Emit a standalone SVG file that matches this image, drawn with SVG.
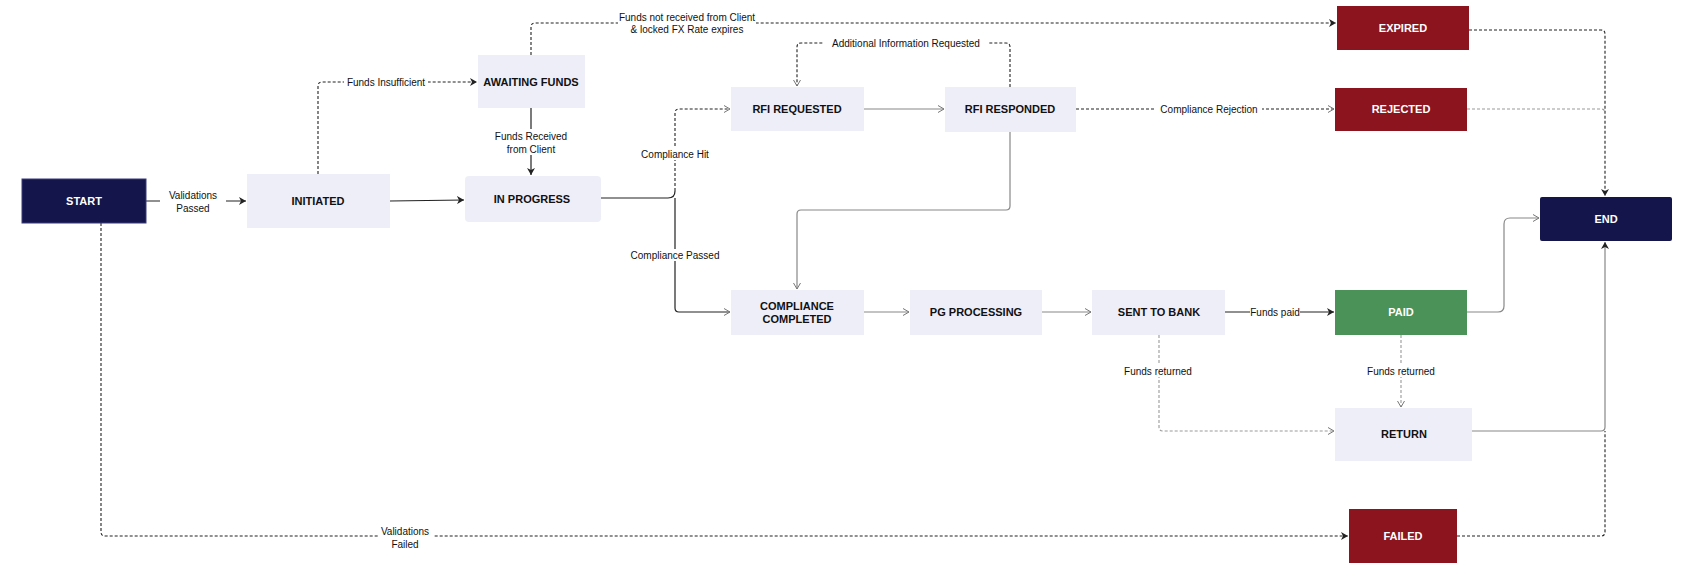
<svg xmlns="http://www.w3.org/2000/svg" width="1699" height="581" viewBox="0 0 1699 581">
<style>
text{font-family:"Liberation Sans",Arial,sans-serif}
.n{font-size:11px;font-weight:bold;text-anchor:middle;fill:#111}
.w{fill:#fff}
.l{font-size:10px;text-anchor:middle;fill:#111}
.lb{fill:#fff}
.s{fill:none;stroke:#222;stroke-width:1.2}
.g{fill:none;stroke:#888;stroke-width:1.2}
.d{fill:none;stroke:#222;stroke-width:1.1;stroke-dasharray:3 2}
.dg{fill:none;stroke:#999;stroke-width:1.1;stroke-dasharray:3 2}
.lav{fill:#eeeef9}
.red{fill:#8b141e}
.navy{fill:#14154a}
</style>
<defs>
<marker id="a" markerWidth="8" markerHeight="8" refX="7" refY="4" orient="auto" markerUnits="userSpaceOnUse"><path d="M0,0 L7,4 L0,8 L2,4z" fill="#222"/></marker>
<marker id="o" markerWidth="8" markerHeight="8" refX="7" refY="4" orient="auto" markerUnits="userSpaceOnUse"><path d="M1,0.5 L7,4 L1,7.5" fill="none" stroke="#777"/></marker>
</defs>
<g id="connectors">
<path class="s" d="M146,201 H246" marker-end="url(#a)"/>
<rect x="160" y="188" width="66" height="26" fill="#fff"/>
<text class="l" x="193" y="199">Validations</text><text class="l" x="193" y="212">Passed</text>
<path class="s" d="M390,201 L464,200" marker-end="url(#a)"/>
<path class="d" d="M318,174 V86 Q318,82 322,82 H477" marker-end="url(#a)"/>
<rect x="344" y="76" width="84" height="12" fill="#fff"/>
<text class="l" x="386" y="86">Funds Insufficient</text>
<path class="s" d="M531,108 V175" marker-end="url(#a)"/>
<rect x="495" y="129" width="72" height="26" fill="#fff"/>
<text class="l" x="531" y="140">Funds Received</text><text class="l" x="531" y="153">from Client</text>
<path class="d" d="M531,55 V27 Q531,23 535,23 H1336" marker-end="url(#a)"/>
<rect x="618" y="11" width="138" height="26" fill="#fff"/>
<text class="l" x="687" y="21">Funds not received from Client</text><text class="l" x="687" y="33">&amp; locked FX Rate expires</text>
<path class="s" d="M601,198 H668 Q675,198 675,191"/>
<path class="d" d="M675,191 V113 Q675,109 679,109 H730" marker-end="url(#o)"/>
<path class="s" d="M675,198 V308 Q675,312 679,312 H730" marker-end="url(#o)"/>
<rect x="636" y="148" width="78" height="12" fill="#fff"/>
<text class="l" x="675" y="158">Compliance Hit</text>
<rect x="626" y="249" width="98" height="12" fill="#fff"/>
<text class="l" x="675" y="259">Compliance Passed</text>
<path class="g" d="M864,109 H944" marker-end="url(#o)"/>
<path class="d" d="M1010,87 V47 Q1010,43 1006,43 H801 Q797,43 797,47 V86" marker-end="url(#o)"/>
<rect x="824" y="37" width="164" height="12" fill="#fff"/>
<text class="l" x="906" y="47">Additional Information Requested</text>
<path class="g" d="M1010,132 V206 Q1010,210 1006,210 H801 Q797,210 797,214 V289" marker-end="url(#o)"/>
<path class="d" d="M1076,109 H1334" marker-end="url(#o)"/>
<rect x="1156" y="103" width="106" height="12" fill="#fff"/>
<text class="l" x="1209" y="113">Compliance Rejection</text>
<path class="g" d="M864,312 H909" marker-end="url(#o)"/>
<path class="g" d="M1042,312 H1091" marker-end="url(#o)"/>
<path class="s" d="M1225,312 H1334" marker-end="url(#a)"/>
<rect x="1250" y="306" width="50" height="12" fill="#fff"/>
<text class="l" x="1275" y="316">Funds paid</text>
<path class="dg" d="M1159,335 V427 Q1159,431 1163,431 H1334" marker-end="url(#o)"/>
<rect x="1119" y="365" width="78" height="12" fill="#fff"/>
<text class="l" x="1158" y="375">Funds returned</text>
<path class="dg" d="M1401,335 V407" marker-end="url(#o)"/>
<rect x="1362" y="365" width="78" height="12" fill="#fff"/>
<text class="l" x="1401" y="375">Funds returned</text>
<path class="g" d="M1467,312 H1498 Q1504,312 1504,306 V224 Q1504,218 1510,218 H1539" marker-end="url(#o)"/>
<path class="g" d="M1472,431 H1601 Q1605,431 1605,427 V242" marker-end="url(#a)"/>
<path class="d" d="M1469,30 H1601 Q1605,30 1605,34 V196" marker-end="url(#a)"/>
<path class="dg" d="M1467,109 H1601 Q1605,109 1605,113"/>
<path class="d" d="M1457,536 H1601 Q1605,536 1605,532 V431"/>
<path class="d" d="M101,223 V532 Q101,536 105,536 H1348" marker-end="url(#a)"/>
<rect x="378" y="525" width="56" height="26" fill="#fff"/>
<text class="l" x="405" y="535">Validations</text><text class="l" x="405" y="548">Failed</text>
</g>
<g id="start"><rect class="navy" x="22" y="179" width="124" height="44" stroke="#3a3c7a"/><text class="n w" x="84" y="205">START</text></g>
<g id="initiated"><rect class="lav" x="247" y="174" width="143" height="54"/><text class="n" x="318" y="205">INITIATED</text></g>
<g id="awaiting"><rect class="lav" x="478" y="55" width="107" height="53"/><text class="n" x="531" y="86">AWAITING FUNDS</text></g>
<g id="inprogress"><rect class="lav" x="465" y="176" width="136" height="46" rx="4"/><text class="n" x="532" y="203">IN PROGRESS</text></g>
<g id="rfireq"><rect class="lav" x="731" y="87" width="133" height="44"/><text class="n" x="797" y="113">RFI REQUESTED</text></g>
<g id="rfiresp"><rect class="lav" x="945" y="87" width="131" height="45"/><text class="n" x="1010" y="113">RFI RESPONDED</text></g>
<g id="expired"><rect class="red" x="1337" y="6" width="132" height="44"/><text class="n w" x="1403" y="32">EXPIRED</text></g>
<g id="rejected"><rect class="red" x="1335" y="88" width="132" height="43"/><text class="n w" x="1401" y="113">REJECTED</text></g>
<g id="end"><rect class="navy" x="1540" y="197" width="132" height="44" rx="2"/><text class="n w" x="1606" y="223">END</text></g>
<g id="compliance"><rect class="lav" x="731" y="290" width="133" height="45"/><text class="n" x="797" y="310">COMPLIANCE</text><text class="n" x="797" y="323">COMPLETED</text></g>
<g id="pg"><rect class="lav" x="910" y="290" width="132" height="45"/><text class="n" x="976" y="316">PG PROCESSING</text></g>
<g id="sent"><rect class="lav" x="1092" y="290" width="133" height="45"/><text class="n" x="1159" y="316">SENT TO BANK</text></g>
<g id="paid"><rect fill="#4a9257" x="1335" y="290" width="132" height="45"/><text class="n w" x="1401" y="316">PAID</text></g>
<g id="return"><rect class="lav" x="1335" y="408" width="137" height="53"/><text class="n" x="1404" y="438">RETURN</text></g>
<g id="failed"><rect class="red" x="1349" y="509" width="108" height="54"/><text class="n w" x="1403" y="540">FAILED</text></g>
</svg>
